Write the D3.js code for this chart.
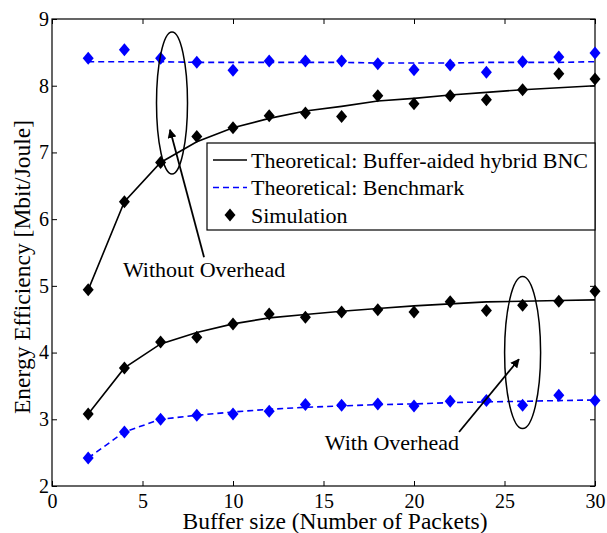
<!DOCTYPE html>
<html>
<head>
<meta charset="utf-8">
<script src="https://cdn.jsdelivr.net/npm/d3@7"></script>
<style>
  body { margin: 0; background: #fff; }
  svg text { font-family: "Liberation Serif", "Times New Roman", serif; fill: #000; }
</style>
</head>
<body>
<div id="graph"></div>
<script>
// Données
const bufferSize = [2, 4, 6, 8, 10, 12, 14, 16, 18, 20, 22, 24, 26, 28, 30];

// Sans overhead
const theoBncNoOvh = [4.94, 6.26, 6.85, 7.16, 7.37, 7.51, 7.62, 7.69, 7.77, 7.81, 7.86, 7.9, 7.94, 7.97, 8.0];
const theoBenchNoOvh = [8.36, 8.36, 8.36, 8.35, 8.35, 8.35, 8.35, 8.35, 8.34, 8.34, 8.34, 8.35, 8.35, 8.35, 8.36];
const simBncNoOvh = [4.94, 6.26, 6.85, 7.24, 7.37, 7.55, 7.59, 7.54, 7.85, 7.73, 7.85, 7.79, 7.94, 8.18, 8.1];
const simBenchNoOvh = [8.41, 8.54, 8.41, 8.35, 8.23, 8.37, 8.37, 8.37, 8.33, 8.24, 8.31, 8.2, 8.36, 8.43, 8.49];

// Avec overhead
const theoBncOvh = [3.08, 3.77, 4.13, 4.3, 4.43, 4.52, 4.57, 4.62, 4.66, 4.7, 4.73, 4.76, 4.77, 4.78, 4.79];
const theoBenchOvh = [2.42, 2.81, 3.0, 3.06, 3.11, 3.15, 3.18, 3.2, 3.22, 3.23, 3.25, 3.26, 3.27, 3.28, 3.29];
const simBncOvh = [3.08, 3.77, 4.16, 4.23, 4.43, 4.58, 4.53, 4.61, 4.64, 4.61, 4.76, 4.63, 4.71, 4.77, 4.92];
const simBenchOvh = [2.42, 2.81, 3.0, 3.06, 3.08, 3.12, 3.22, 3.21, 3.23, 3.2, 3.27, 3.28, 3.21, 3.36, 3.28];

const xTicks = [0, 5, 10, 15, 20, 25, 30];
const yTicks = [2, 3, 4, 5, 6, 7, 8, 9];

const legendLabels = ['Theoretical: Buffer-aided hybrid BNC', 'Theoretical: Benchmark', 'Simulation'];

//---------------------------------------------------------------------------------------

const width = 607;
const height = 533;
const margin = { top: 19, right: 12, bottom: 47, left: 52 };

const svg = d3.select('#graph')
  .append('svg')
  .attr('width', width)
  .attr('height', height);

const scaleX = d3.scaleLinear()
  .domain([0, 30])
  .range([margin.left, width - margin.right]);

const scaleY = d3.scaleLinear()
  .domain([2, 9])
  .range([height - margin.bottom, margin.top]);

const plotW = width - margin.right - margin.left;
const plotH = height - margin.bottom - margin.top;

const fontTick = 20;
const fontText = 22;
const fontTitle = 23.5;

//---------------------------------------------------------------------------------------

// Axes (graduations vers l'intérieur, sur les quatre côtés)

const tickLen = 5;

svg.append('g')
  .attr('transform', `translate(0,${height - margin.bottom})`)
  .call(d3.axisBottom(scaleX).tickValues(xTicks).tickSize(-tickLen).tickPadding(8).tickFormat(d3.format('d')))
  .call(g => g.select('.domain').remove())
  .call(g => g.selectAll('text').attr('font-size', fontTick));

svg.append('g')
  .attr('transform', `translate(0,${margin.top})`)
  .call(d3.axisTop(scaleX).tickValues(xTicks).tickSize(-tickLen).tickFormat(''))
  .call(g => g.select('.domain').remove());

svg.append('g')
  .attr('transform', `translate(${margin.left},0)`)
  .call(d3.axisLeft(scaleY).tickValues(yTicks).tickSize(-tickLen).tickPadding(3).tickFormat(d3.format('d')))
  .call(g => g.select('.domain').remove())
  .call(g => g.selectAll('text').attr('font-size', fontTick));

svg.append('g')
  .attr('transform', `translate(${width - margin.right},0)`)
  .call(d3.axisRight(scaleY).tickValues(yTicks).tickSize(-tickLen).tickFormat(''))
  .call(g => g.select('.domain').remove());

svg.selectAll('.tick line').attr('stroke', '#000');

svg.append('rect')
  .attr('x', margin.left)
  .attr('y', margin.top)
  .attr('width', plotW)
  .attr('height', plotH)
  .attr('fill', 'none')
  .attr('stroke', '#000')
  .attr('stroke-width', 1.2);

// Titres des axes
svg.append('text')
  .attr('x', 335)
  .attr('y', height - 4)
  .attr('text-anchor', 'middle')
  .attr('font-size', fontTitle)
  .text('Buffer size (Number of Packets)');

svg.append('text')
  .attr('transform', `translate(30,267) rotate(-90)`)
  .attr('text-anchor', 'middle')
  .attr('font-size', fontTitle)
  .text('Energy Efficiency [Mbit/Joule]');

//---------------------------------------------------------------------------------------

// Courbes

const line = d3.line()
  .x((d, i) => scaleX(bufferSize[i]))
  .y(d => scaleY(d));

const series = [
  { values: theoBncNoOvh, color: '#000', dash: null },
  { values: theoBenchNoOvh, color: '#0000ff', dash: '6,4' },
  { values: theoBncOvh, color: '#000', dash: null },
  { values: theoBenchOvh, color: '#0000ff', dash: '6,4' }
];

svg.append('g')
  .selectAll('path')
  .data(series)
  .join('path')
  .attr('d', d => line(d.values))
  .attr('fill', 'none')
  .attr('stroke', d => d.color)
  .attr('stroke-width', 1.6)
  .attr('stroke-dasharray', d => d.dash);

// Marqueurs losanges
const diamond = (cx, cy) => `M${cx},${cy - 6.5}L${cx + 5.5},${cy}L${cx},${cy + 6.5}L${cx - 5.5},${cy}Z`;

const simSeries = [
  { values: simBenchNoOvh, color: '#0000ff' },
  { values: simBncNoOvh, color: '#000' },
  { values: simBenchOvh, color: '#0000ff' },
  { values: simBncOvh, color: '#000' }
];

simSeries.forEach(s => {
  svg.append('g')
    .selectAll('path')
    .data(s.values)
    .join('path')
    .attr('d', (d, i) => diamond(scaleX(bufferSize[i]), scaleY(d)))
    .attr('fill', s.color);
});

//---------------------------------------------------------------------------------------

// Légende

const legend = svg.append('g').attr('transform', 'translate(207,143)');

legend.append('rect')
  .attr('width', width - margin.right - 207)
  .attr('height', 87)
  .attr('fill', '#fff')
  .attr('stroke', '#000')
  .attr('stroke-width', 1.2);

const legendRows = legend.selectAll('g')
  .data(legendLabels)
  .join('g')
  .attr('transform', (d, i) => `translate(0,${17 + i * 27.5})`);

legendRows.append('text')
  .attr('x', 44)
  .attr('dy', '0.35em')
  .attr('font-size', fontText)
  .text(d => d);

legendRows.filter((d, i) => i < 2)
  .append('line')
  .attr('x1', 6)
  .attr('x2', 40)
  .attr('stroke', (d, i) => i === 0 ? '#000' : '#0000ff')
  .attr('stroke-width', 1.6)
  .attr('stroke-dasharray', (d, i) => i === 0 ? null : '6,4');

legendRows.filter((d, i) => i === 2)
  .append('path')
  .attr('d', diamond(23, 0))
  .attr('fill', '#000');

//---------------------------------------------------------------------------------------

// Annotations : ellipses, flèches, libellés

svg.append('defs')
  .append('marker')
  .attr('id', 'arrow')
  .attr('viewBox', '0 0 10 10')
  .attr('refX', 9)
  .attr('refY', 5)
  .attr('markerWidth', 9)
  .attr('markerHeight', 9)
  .attr('markerUnits', 'userSpaceOnUse')
  .attr('orient', 'auto')
  .append('path')
  .attr('d', 'M0,0L10,5L0,10Z')
  .attr('fill', '#000');

const annotations = [
  { ex: 6.63, ey: 7.74, rx: 15.5, ry: 71, x1: 8.4, y1: 5.43, x2: 6.52, y2: 7.34, label: 'Without Overhead', lx: 8.4, ly: 5.25 },
  { ex: 26, ey: 4.0, rx: 18, ry: 76, x1: 22.49, y1: 2.81, x2: 25.8, y2: 3.9, label: 'With Overhead', lx: 18.78, ly: 2.66 }
];

const annot = svg.append('g').selectAll('g').data(annotations).join('g');

annot.append('ellipse')
  .attr('cx', d => scaleX(d.ex))
  .attr('cy', d => scaleY(d.ey))
  .attr('rx', d => d.rx)
  .attr('ry', d => d.ry)
  .attr('fill', 'none')
  .attr('stroke', '#000')
  .attr('stroke-width', 1.5);

annot.append('line')
  .attr('x1', d => scaleX(d.x1))
  .attr('y1', d => scaleY(d.y1))
  .attr('x2', d => scaleX(d.x2))
  .attr('y2', d => scaleY(d.y2))
  .attr('stroke', '#000')
  .attr('stroke-width', 1.8)
  .attr('marker-end', 'url(#arrow)');

annot.append('text')
  .attr('x', d => scaleX(d.lx))
  .attr('y', d => scaleY(d.ly))
  .attr('text-anchor', 'middle')
  .attr('dy', '0.35em')
  .attr('font-size', fontText)
  .text(d => d.label);
</script>
</body>
</html>
